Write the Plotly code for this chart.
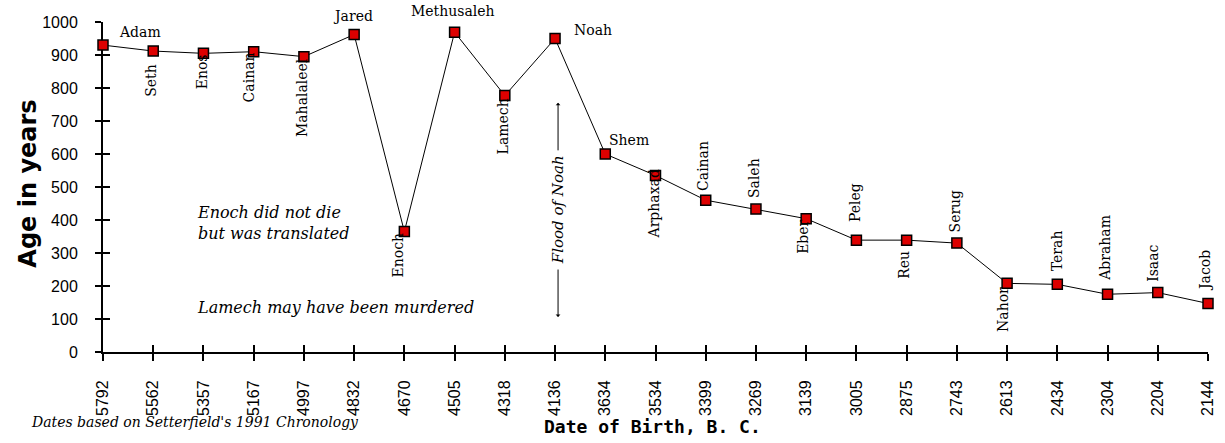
import plotly.graph_objects as go

# ---- data ----
birth_dates = ["5792", "5562", "5357", "5167", "4997", "4832", "4670", "4505", "4318", "4136",
               "3634", "3534", "3399", "3269", "3139", "3005", "2875", "2743", "2613", "2434",
               "2304", "2204", "2144"]
patriarchs = ["Adam", "Seth", "Enos", "Cainan", "Mahalaleel", "Jared", "Enoch", "Methusaleh",
              "Lamech", "Noah", "Shem", "Arphaxad", "Cainan", "Saleh", "Eber", "Peleg", "Reu",
              "Serug", "Nahor", "Terah", "Abraham", "Isaac", "Jacob"]
ages = [930, 912, 905, 910, 895, 962, 365, 969, 777, 950, 600, 535, 460, 433, 404, 339, 339,
        330, 208, 205, 175, 180, 147]
y_ticks = list(range(0, 1001, 100))

# ---- label placement (style, not data) ----
label_place = [
    ("h-right", 15, 13), ("v-below", -3, -12), ("v-below", -2, 0), ("v-below", -5, 0),
    ("v-below", -2, 0), ("h-above", -1, 10), ("v-below", -6, 0), ("h-above", -2, 12),
    ("v-below", -2, -2), ("h-right", 18, 9), ("h-right", 3, 14), ("v-below", -2, 7),
    ("v-above", -3, 8), ("v-above", -2, 10), ("v-below", -4, 0), ("v-above", -2, 17),
    ("v-below", -3, -10), ("v-above", -2, 10), ("v-below", -4, -3), ("v-above", 0, 12),
    ("v-above", -2, 12), ("v-above", -5, 10), ("v-above", -3, 11),
]

LABEL_FONT = dict(family="DejaVu Serif", size=14, color="black")

fig = go.Figure()
fig.add_trace(go.Scatter(
    x=birth_dates, y=ages, mode="lines+markers",
    line=dict(color="black", width=1),
    marker=dict(symbol="square", size=10, color="#dd0000", line=dict(color="black", width=1.5)),
    cliponaxis=False, hoverinfo="skip", showlegend=False,
))
# invisible trace to host the overlay axes used for inner tick marks
fig.add_trace(go.Scatter(
    x=list(range(len(birth_dates))), y=ages, mode="markers", marker=dict(opacity=0),
    xaxis="x2", yaxis="y2", hoverinfo="skip", showlegend=False,
))

annotations = []
for i, (name, age, (kind, dx, dy)) in enumerate(zip(patriarchs, ages, label_place)):
    a = dict(x=i, y=age, xref="x", yref="y", text=name, showarrow=False, font=LABEL_FONT,
             xshift=dx, yshift=dy, borderpad=0)
    if kind == "h-right":
        a.update(xanchor="left", yanchor="middle")
    elif kind == "h-above":
        a.update(xanchor="center", yanchor="bottom")
    elif kind == "v-below":
        a.update(textangle=-90, xanchor="center", yanchor="top")
    else:
        a.update(textangle=-90, xanchor="center", yanchor="bottom")
    annotations.append(a)

# Flood of Noah bracket (at Noah's birth date position)
flood_i = birth_dates.index("4136")
annotations += [
    dict(x=flood_i, y=430, xref="x", yref="y", text="<i>Flood of Noah</i>", textangle=-90,
         showarrow=False, xshift=3, borderpad=0,
         font=dict(family="DejaVu Serif", size=15, color="black")),
    dict(x=flood_i, y=755, xref="x", yref="y", text="", showarrow=True, ax=0, ay=49,
         arrowhead=1, arrowsize=0.8, arrowwidth=1, arrowcolor="black", xshift=3),
    dict(x=flood_i, y=106, xref="x", yref="y", text="", showarrow=True, ax=0, ay=-49,
         arrowhead=1, arrowsize=0.8, arrowwidth=1, arrowcolor="black", xshift=3),
]

# free text notes
note_font = dict(family="DejaVu Serif", size=16, color="black")
annotations += [
    dict(x=0.0833, y=0.392, xref="paper", yref="paper", xanchor="left", yanchor="middle",
         text="<i>Enoch did not die<br>but was translated</i>", align="left",
         showarrow=False, font=note_font),
    dict(x=0.0833, y=0.136, xref="paper", yref="paper", xanchor="left", yanchor="middle",
         text="<i>Lamech may have been murdered</i>", showarrow=False, font=note_font),
    dict(x=-0.067, y=-0.212, xref="paper", yref="paper", xanchor="left", yanchor="middle",
         text="<i>Dates based on Setterfield's 1991 Chronology</i>", showarrow=False,
         font=dict(family="DejaVu Serif", size=14, color="black")),
    dict(x=0.4977, y=-0.227, xref="paper", yref="paper", xanchor="center", yanchor="middle",
         text="<b>Date of Birth, B. C.</b>", showarrow=False,
         font=dict(family="DejaVu Sans Mono", size=18, color="black")),
    dict(x=-0.0679, y=0.51, xref="paper", yref="paper", xanchor="center", yanchor="middle",
         text="<b>Age in years</b>", textangle=-90, showarrow=False,
         font=dict(family="DejaVu Sans", size=24, color="black")),
]

tick_font = dict(family="Liberation Sans", size=16, color="black")
fig.update_layout(
    width=1225, height=443,
    margin=dict(l=103, r=17, t=22, b=91),
    paper_bgcolor="white", plot_bgcolor="white",
    showlegend=False,
    annotations=annotations,
    xaxis=dict(type="category", range=[0, len(birth_dates) - 1], showgrid=False, zeroline=False,
               showline=True, linecolor="black", linewidth=2, ticks="outside", ticklen=7,
               tickwidth=2, tickcolor="black", tickangle=-90, tickfont=tick_font,
               ticklabelstandoff=13, layer="below traces", automargin=False),
    yaxis=dict(range=[0, 1000], tickvals=y_ticks, showgrid=False, zeroline=False,
               showline=True, linecolor="black", linewidth=2, ticks="outside", ticklen=6,
               tickwidth=2, tickcolor="black", tickfont=tick_font, ticklabelstandoff=14,
               layer="below traces", automargin=False),
    xaxis2=dict(overlaying="x", range=[0, len(birth_dates) - 1], dtick=1, tick0=0,
                showgrid=False, zeroline=False, showline=False, ticks="inside", ticklen=7,
                tickwidth=2, tickcolor="black", showticklabels=False, layer="below traces"),
    yaxis2=dict(overlaying="y", range=[0, 1000], tickvals=y_ticks, showgrid=False,
                zeroline=False, showline=False, ticks="inside", ticklen=7, tickwidth=2,
                tickcolor="black", showticklabels=False, layer="below traces"),
)

# remove the browser's default 8px body margin so the figure fills the window exactly
fig.write_html("out.html", config={"displayModeBar": False},
               post_script="document.body.style.margin='0px';")
